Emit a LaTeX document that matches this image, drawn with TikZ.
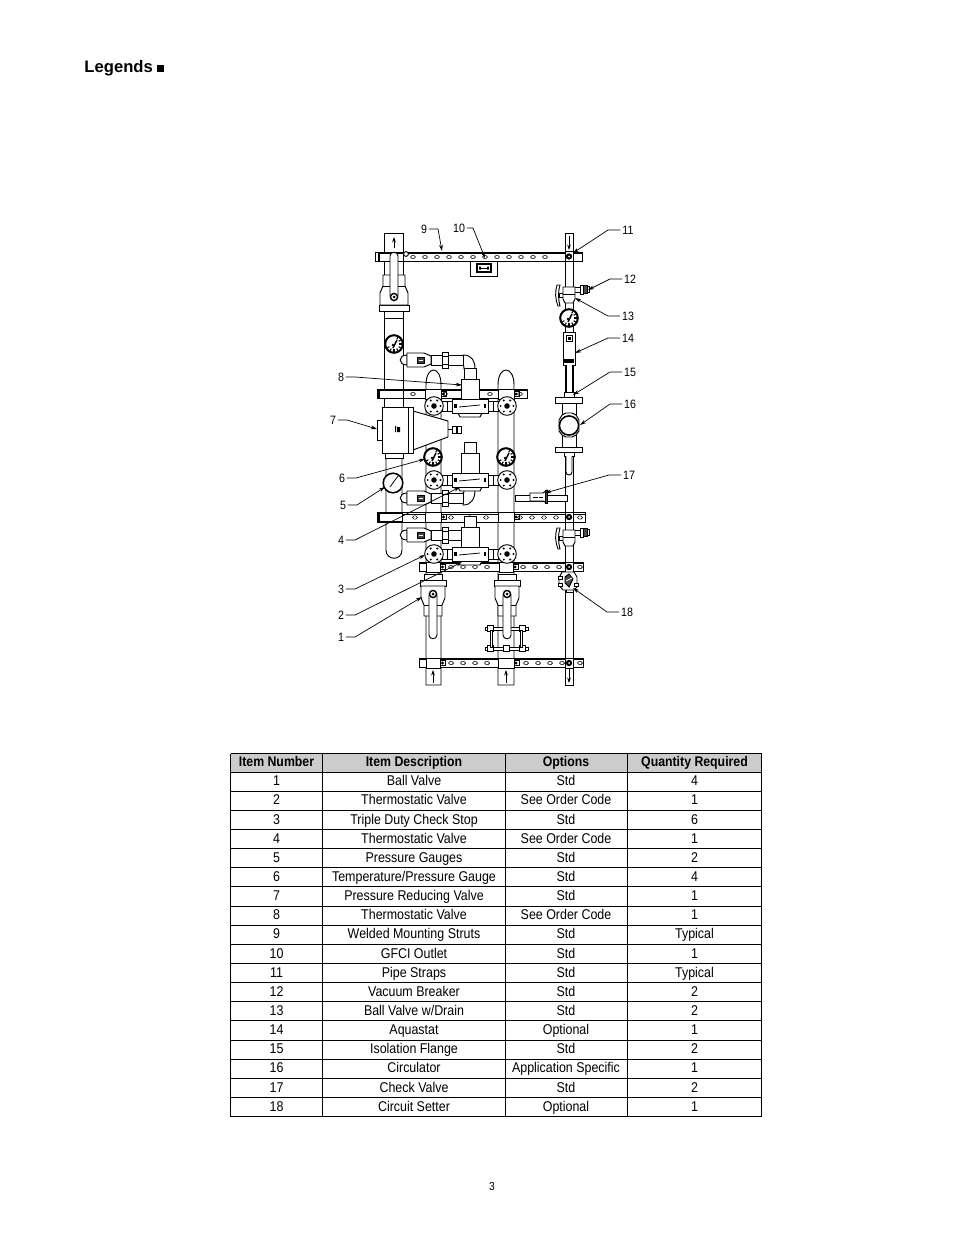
\documentclass[tikz,border=0pt]{standalone}
\usepackage{fontspec}
\setmainfont[FakeStretch=0.88]{Liberation Sans}
\newfontfamily\headfont{Liberation Sans}
\usetikzlibrary{arrows.meta}

\tikzset{
    part/.style={draw, fill=white, line width=.6pt},
    leader/.style={line width=.45pt, -{Stealth[length=4pt,width=2.4pt]}},
    flow/.style={line width=.5pt, -{Stealth[length=3.5pt,width=2.4pt]}},
    itemlabel/.style={font=\fontsize{7.8}{9}\selectfont, inner sep=1pt},
    cell/.style={font=\fontsize{9.1}{10}\selectfont, inner sep=0pt, text height=6.2pt, text depth=1.6pt},
    headcell/.style={cell, font=\fontsize{9}{10}\selectfont\bfseries},
    gridline/.style={line width=.6pt}
}

% slotted strut across the pipes
\newcommand{\railbar}[4]{
    \draw[part] (#1,#3) rectangle (#2,#3+9.5);
    \draw[line width=.4pt] (#1,#3+1.5) -- (#2,#3+1.5);
    \foreach \x in {#4}
        \draw[line width=.4pt, rounded corners=1pt] (\x-2.5,#3+3.4) rectangle (\x+2.5,#3+6.6);
}
\newcommand{\strap}[3]{
    \draw[part] (#1-#3,#2-5) rectangle (#1+#3,#2+5);
    \fill (#1+#3+2,#2) circle (1.6);
    \draw[line width=.5pt] (#1+#3,#2-2.5) -- (#1+#3+5,#2-2.5) -- (#1+#3+5,#2+2.5) -- (#1+#3,#2+2.5);
}
\newcommand{\handwheel}[2]{
    \draw[part] (#1,#2) circle (9.3);
    \foreach \a in {0,60,...,300}
        \fill (#1,#2) ++(\a:6.4) circle (1.1);
    \fill (#1,#2) circle (2.8);
}
\newcommand{\dial}[2]{
    \draw[part, line width=1.3pt] (#1,#2) circle (8.8);
    \foreach \a in {150,120,...,-60}
        \draw[line width=.7pt] (#1,#2) ++(\a:7.6) -- ++(\a:-2.2);
    \draw[line width=.9pt] (#1-1,#2+4) -- (#1+3,#2-4);
    \fill (#1-1,#2+1) circle (1.4);
}
% ball valve lying across, runs from the pipe to the regulator
\newcommand{\linevalve}[1]{
    \draw[part] (407,#1-5) .. controls (398,#1-5) and (398,#1+5) .. (407,#1+5) -- cycle;
    \draw[part] (431,#1-5) rectangle (463,#1+5);
    \draw[part] (407,#1-7) -- (424,#1-7) -- (431,#1-4) -- (431,#1+4) -- (424,#1+7) -- (407,#1+7) -- cycle;
    \draw[part] (442,#1-8) rectangle (448,#1+8);
    \draw[line width=.4pt] (442,#1-4) -- (448,#1-4) (442,#1+4) -- (448,#1+4);
    \draw[fill=black!75, line width=.4pt] (417,#1-3) rectangle (424,#1+3);
    \draw[white, line width=.6pt] (418.5,#1) -- (422.5,#1);
}
% regulator on the line between the two wheels
\newcommand{\regvalve}[1]{
    \draw[part] (464,#1-38) rectangle (476,#1-27);
    \draw[part] (461,#1-27) -- (479,#1-27) -- (479,#1-7) -- (461,#1-7) -- cycle;
    \draw[part] (442,#1-5) rectangle (452,#1+5);
    \draw[part] (488,#1-5) rectangle (498,#1+5);
    \draw[line width=.4pt] (447,#1-5) -- (447,#1+5) (493,#1-5) -- (493,#1+5);
    \draw[part] (458,#1+7) -- (482,#1+7) -- (480,#1+11) -- (460,#1+11) -- cycle;
    \draw[part] (452,#1-7) -- (488,#1-7) -- (488,#1+7) -- (452,#1+7) -- cycle;
    \fill (454,#1-2) rectangle (457,#1+2);
    \draw[line width=.5pt] (459,#1+1) -- (480,#1-1);
    \fill (484,#1-2) rectangle (486,#1+2);
}
% gate valve with its long handle, #3 is 1 for handle down and -1 for handle up, #4 is half its width
\newcommand{\gatevalve}[4]{
    \begin{scope}[shift={(#1,#2)}, yscale=#3]
        \draw[part] (-9,-6) rectangle (9,0);
        \draw[part] (-#4-1,0) rectangle (#4+1,6);
        \draw[part] (-#4,6) -- (#4,6) -- (#4,18) -- (#4-3,25) -- (#4-3,36) -- (-#4+3,36) -- (-#4+3,25) -- (-#4,18) -- cycle;
        \draw[line width=.4pt] (-#4+3,25) -- (#4-3,25);
        \draw[part] (-4,15) -- (-4,55) .. controls (-4,60) and (4,60) .. (4,55) -- (4,15) -- cycle;
        \draw[part, line width=.9pt] (0,14) circle (3.6);
        \fill (0,14) circle (1.5);
    \end{scope}
}
\newcommand{\breaker}[1]{
    \draw[part] (557,#1+1) .. controls (555,#1+8) and (555,#1+14) .. (558,#1+22) -- (560,#1+22) .. controls (558,#1+14) and (558,#1+8) .. (560,#1+1) -- cycle;
    \draw[part] (559,#1+9) rectangle (563,#1+13);
    \draw[part] (574,#1+3) rectangle (580,#1+8);
    \draw[part] (580,#1+1) rectangle (583,#1+10);
    \draw[part, fill=black!70] (583,#1+1.5) rectangle (587,#1+9.5);
    \draw[part] (587,#1+2.5) rectangle (589,#1+8.5);
    \draw[part] (563,#1+3) -- (575,#1+3) -- (575,#1+15) -- (573,#1+19) -- (565,#1+19) -- (563,#1+15) -- cycle;
    \draw[line width=.4pt] (563,#1+10) -- (575,#1+10);
}

\begin{document}
\begin{tikzpicture}[x=0.6438pt, y=-0.6438pt, line width=.6pt]
    \useasboundingbox (0,0) rectangle (954,1235);

    % page heading
    \node[anchor=west, inner sep=0pt, font=\headfont\fontsize{10.7}{12}\selectfont\bfseries] (heading) at (84,68) {Legends \rule{4.5pt}{4.5pt}};
    \node[font=\fontsize{7.5}{9}\selectfont, inner sep=0pt] (pageno) at (492,1186) {3};

    % pipes go in first, everything else sits on top
    \draw[part] (384,233) rectangle (403,408);
    \draw[part] (386,453) -- (386,550) .. controls (386,561) and (402,561) .. (402,550) -- (402,453);
    \draw[part] (426,685) -- (426,385) .. controls (426,365) and (441,365) .. (441,385) -- (441,685) -- cycle;
    \draw[part] (498,685) -- (498,385) .. controls (498,365) and (514,365) .. (514,385) -- (514,685) -- cycle;
    \draw[part] (565,233) rectangle (573,685);

    % struts
    \railbar{375}{582}{252}{413,425,...,553}
    \railbar{377}{527}{389}{413,445,490,520}
    \railbar{377}{585}{512.5}{415,451,470,486,520,532,544,556,580}
    \railbar{419}{583}{562}{451,463,475,487,523,535,547,559,580}
    \railbar{419}{583}{658}{451,463,475,487,526,538,550,562,580}
    \fill[white] (375.5,252.5) rectangle (378,261);
    \foreach \y in {252,389,512.5} \draw[line width=.8pt] (378.5,\y) -- (378.5,\y+9.5);

    % straps holding the pipes
    \draw[part] (379,253) rectangle (403,261);
    \draw[part] (379,390) rectangle (403,398);
    \draw[part] (379,513.5) rectangle (402,521.5);
    \draw[part] (406,254) circle (2.4);
    \foreach \x/\y/\w in {433.5/394/8, 506/394/8, 433.5/517/8, 506/517/8, 433.5/567/7, 506/567/7, 433.5/663/7, 506/663/8} {
        \strap{\x}{\y}{\w}
    }
    \foreach \y in {256.5,517,567,663} {
        \draw[part] (565,\y-5) rectangle (573,\y+5);
        \fill (569,\y) circle (3.2);
        \fill[white] (569,\y) circle (1);
    }

    % junction box
    \draw[part] (470,261) rectangle (497,276);
    \draw[part, line width=.8pt] (477,264) rectangle (491,272);
    \draw[line width=.5pt] (480,268) -- (488,268);
    \fill (479,266.5) rectangle (481,269.5) (487,266.5) rectangle (489,269.5);

    % flow arrows
    \draw[flow] (394,248) -- (394,237);
    \draw[flow] (569,236) -- (569,250);
    \draw[flow] (433,683) -- (433,670);
    \draw[flow] (506,683) -- (506,670);
    \draw[flow] (569,669) -- (569,683);

    % left column
    \gatevalve{394}{311}{-1}{14}
    \draw[part] (384,311) rectangle (403,318);
    \dial{394}{344}
    \draw[part] (384,398) rectangle (403,408);
    \draw[part] (382,407) -- (408,407) -- (408,453) -- (382,453) -- cycle;
    \draw[part] (377,420) rectangle (382,440);
    \draw[part] (413,411) -- (448,421) -- (448,437) -- (413,450) -- cycle;
    \draw[part] (408,407) rectangle (413,453);
    \fill (395,426) rectangle (396,432) (397,427) rectangle (400,432);
    \draw (448,429.5) -- (452,429.5);
    \draw[part] (452,426) rectangle (456,433);
    \draw[part] (457,426) rectangle (461,433);
    \draw[part] (385,453) rectangle (403,458);
    \draw[part, line width=1pt] (393,483) circle (9.8);
    \draw[line width=.5pt] (390,487) -- (398,476);

    % the three regulator groups
    \draw[part] (463,355) .. controls (472,355) and (475,361) .. (475,369) -- (464,369) .. controls (464,367) and (464,365) .. (463,365) -- cycle;
    \linevalve{360}
    \regvalve{406}
    \foreach \x in {434,507} {\handwheel{\x}{406}}

    \foreach \x in {433,506} {\dial{\x}{457}}
    \draw[part] (463,505) .. controls (472,505) and (475,498) .. (475,490) -- (464,490) .. controls (464,492) and (464,493) .. (463,493) -- cycle;
    \linevalve{498}
    \regvalve{480}
    \foreach \x in {434,507} {\handwheel{\x}{480}}

    \linevalve{535}
    \regvalve{554}
    \foreach \x in {434,507} {\handwheel{\x}{554}}

    % flange set under the right hand gate valve
    \foreach \y in {627,647} {
        \draw[part] (485,\y) rectangle (528,\y+3);
        \foreach \x in {490,506,522} \draw[part] (\x-3,\y-1.5) rectangle (\x+3,\y+4.5);
    }
    \foreach \x in {491,521} \draw[part, line width=.4pt] (\x-1,630) rectangle (\x+1,647);
    \gatevalve{433}{580}{1}{12}
    \gatevalve{507}{580}{1}{12}

    % right column
    \breaker{284}
    \dial{569}{318}
    \draw[part] (563,332) rectangle (575,365);
    \draw[line width=.5pt] (566,335) rectangle (572,341);
    \fill (567.5,337) rectangle (570.5,339.5);
    \fill (564,359) rectangle (574,363);
    \draw[part] (566,365) -- (566,392) -- (572,392) -- (572,365);
    \draw[part] (564,392) rectangle (574,397);
    \draw[part] (555,397) rectangle (582,403);
    \draw[part] (562,403) rectangle (576,447);
    \draw[part] (555,447) rectangle (582,452);
    \draw[part] (562,415) -- (566,413) -- (572,413) -- (576,415) -- (579,420) -- (579,431) -- (576,435) -- (572,437) -- (566,437) -- (562,435) -- (559,431) -- (559,420) -- cycle;
    \draw[part, line width=1pt] (569,425.5) circle (9.6);
    \draw[part] (564,452) rectangle (574,456);
    \draw[part] (566,456) -- (566,472) .. controls (566,476) and (572,476) .. (572,472) -- (572,456);

    % check valve
    \draw[part] (515,495) rectangle (567,501);
    \draw[part] (530,493) -- (543,493) -- (547,490) -- (547,503) -- (543,501) -- (530,501) -- cycle;
    \draw[line width=.6pt] (533,497.5) -- (538,497.5) (539,497.5) -- (543,497.5);
    \draw[fill=black!70] (545,490) rectangle (547,503);

    \breaker{527}

    % circuit setter
    \draw[part] (566,575) rectangle (573,592);
    \draw[part] (559,578) -- (562,572) -- (574,572) -- (577,577) -- (577,587) -- (574,590) -- (563,590) -- (559,585) -- cycle;
    \draw[part, line width=.3pt] (558,576) rectangle (562,579);
    \draw[part, line width=.3pt] (558,583) rectangle (562,586);
    \draw[part, line width=.3pt] (574,583) rectangle (578,586);
    \draw[fill=black!70] (565,577) -- (569,574) -- (573,579) -- (569,587) -- (565,583) -- cycle;
    \draw[white, line width=.5pt] (566,581) -- (572,578);

    % call outs on the left
    \foreach \n/\lx/\ly/\tx/\ty in {9/424/229/442/251, 10/459/228/485/258, 8/341/377/462/385, 7/333/420/377/429, 6/342/478/425/459, 5/343/505/385/487, 4/341/540/460/487, 3/341/589/425/555, 2/341/615/462/562, 1/341/637/422/597} {
        \node[itemlabel] (lab\n) at (\lx,\ly) {\n};
        \coordinate (tip\n) at (\tx,\ty);
        \draw[leader] (lab\n) -- ++(14,0) -- (tip\n);
    }
    % call outs on the right
    \foreach \n/\lx/\ly/\tx/\ty in {11/628/230/573/253, 12/630/279/588/290, 13/628/316/575/298, 14/628/338/575/353, 15/630/372/573/395, 16/630/404/580/425, 17/629/475/545/493, 18/627/612/573/588} {
        \node[itemlabel] (lab\n) at (\lx,\ly) {\n};
        \coordinate (tip\n) at (\tx,\ty);
        \draw[leader] (lab\n) -- ++(-20,0) -- (tip\n);
    }

    % table
    \fill[black!20] (230.5,753.5) rectangle (761.5,772);
    \foreach \x in {230.5,322.5,505,627.5,761.5} \draw[gridline] (\x,753.5) -- (\x,1116.5);
    \draw[gridline] (230.5,753.5) -- (761.5,753.5);
    \foreach \r in {0,...,18} \draw[gridline] (230.5,{772+19.14*\r}) -- (761.5,{772+19.14*\r});
    \node[headcell] (headitem) at (276.5,762.5) {Item Number};
    \node[headcell] (headdesc) at (414,762.5) {Item Description};
    \node[headcell] (headopt) at (566,762.5) {Options};
    \node[headcell] (headqty) at (694.5,762.5) {Quantity Required};
    \foreach \desc/\opt/\qty [count=\r] in {
        Ball Valve/Std/4,
        Thermostatic Valve/See Order Code/1,
        Triple Duty Check Stop/Std/6,
        Thermostatic Valve/See Order Code/1,
        Pressure Gauges/Std/2,
        {Temperature/Pressure Gauge}/Std/4,
        Pressure Reducing Valve/Std/1,
        Thermostatic Valve/See Order Code/1,
        Welded Mounting Struts/Std/Typical,
        GFCI Outlet/Std/1,
        Pipe Straps/Std/Typical,
        Vacuum Breaker/Std/2,
        {Ball Valve w/Drain}/Std/2,
        Aquastat/Optional/1,
        Isolation Flange/Std/2,
        Circulator/Application Specific/1,
        Check Valve/Std/2,
        Circuit Setter/Optional/1} {
        \node[cell] (item\r) at (276.5,{782.2+19.14*(\r-1)}) {\r};
        \node[cell] (desc\r) at (414,{782.2+19.14*(\r-1)}) {\desc};
        \node[cell] (opt\r) at (566,{782.2+19.14*(\r-1)}) {\opt};
        \node[cell] (qty\r) at (694.5,{782.2+19.14*(\r-1)}) {\qty};
    }
\end{tikzpicture}
\end{document}
